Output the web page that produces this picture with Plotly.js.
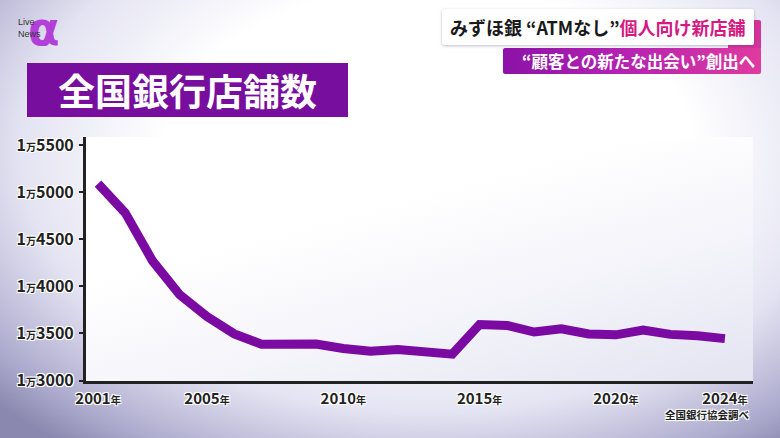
<!DOCTYPE html>
<html>
<head>
<meta charset="utf-8">
<script src="https://cdn.plot.ly/plotly-3.0.1.min.js"></script>
<style>
  html, body { margin:0; padding:0; width:780px; height:438px; overflow:hidden; }
  body {
    position:relative;
    background:
      radial-gradient(ellipse 75% 85% at 55% 35%, #ffffff 45%, #e4e3f2 70%, #aeacce 90%, #8a88ae 100%);
  }
  #plotbg { position:absolute; left:86px; top:137px; width:667px; height:244px;
    background: linear-gradient(165deg, #ffffff 35%, #f4f4fa 65%, #e4e4f2 100%); }
  #b1 { position:absolute; left:442px; top:9px; width:312px; height:36px; background:#fff;
    box-shadow: 0 1px 3px rgba(80,60,120,0.35); border-radius:2px; }
  #b1p { position:absolute; left:728px; top:20px; width:33px; height:30px; background:#d3339a; border-radius:2px; }
  #b2 { position:absolute; left:503px; top:48px; width:258px; height:26px;
    background: linear-gradient(90deg, #8c12a8 0%, #b322b2 45%, #e03aa0 100%); border-radius:2px; }
  #chart { position:absolute; left:0; top:0; width:780px; height:438px; }
</style>
</head>
<body>
<div id="plotbg"></div>
<div id="b1p"></div>
<div id="b1"></div>
<div id="b2"></div>
<div id="chart"></div>
<script>
// ---- data ----
const years = [2001,2002,2003,2004,2005,2006,2007,2008,2009,2010,2011,2012,2013,2014,2015,2016,2017,2018,2019,2020,2021,2022,2023,2024];
const branches = [15090,14780,14270,13910,13680,13495,13385,13390,13388,13340,13310,13330,13305,13280,13595,13585,13515,13550,13495,13485,13535,13490,13475,13445];
const yTickVals = [13000,13500,14000,14500,15000,15500];
const yTickText = ["1<span style='font-size:10px'>万</span>3000","1<span style='font-size:10px'>万</span>3500","1<span style='font-size:10px'>万</span>4000","1<span style='font-size:10px'>万</span>4500","1<span style='font-size:10px'>万</span>5000","1<span style='font-size:10px'>万</span>5500"];
const xTickVals = [2001,2005,2010,2015,2020,2024];
const xTickText = xTickVals.map(v => v + "<span style='font-size:10px'>年</span>");
const chartTitle = "全国銀行店舗数";
const headline1 = "みずほ銀 “ATMなし”";
const headline2 = "個人向け新店舗";
const subHeadline = "“顧客との新たな出会い”創出へ";
const sourceText = "全国銀行協会調べ";

// plot area in pixels
const L = 86, T = 137, W = 667, H = 244;
const px = x => (x - L) / W;
const py = y => (T + H - y) / H;

const halo = "1px 1px 0 #fff, -1px -1px 0 #fff, 1px -1px 0 #fff, -1px 1px 0 #fff, 0 0 2px #fff";
const JP = "Noto Sans CJK JP, sans-serif";

const trace = {
  x: years, y: branches, type: 'scatter', mode: 'lines',
  line: { color: '#7a0aa2', width: 9, shape: 'linear' },
  hoverinfo: 'skip'
};

const layout = {
  width: 780, height: 438,
  margin: { l: L, r: 780 - L - W, t: T, b: 438 - T - H, pad: 0 },
  paper_bgcolor: 'rgba(0,0,0,0)', plot_bgcolor: 'rgba(0,0,0,0)',
  showlegend: false,
  xaxis: {
    range: [2000.56, 2025.03], showgrid: false, zeroline: false,
    showline: true, linecolor: '#222', linewidth: 3,
    ticks: '', tickmode: 'array', tickvals: xTickVals, ticktext: xTickText,
    tickfont: { family: JP, size: 15, color: '#222', weight: 700, shadow: halo },
    ticklabelstandoff: 2
  },
  yaxis: {
    range: [12995, 15585], showgrid: false, zeroline: false,
    showline: true, linecolor: '#222', linewidth: 3,
    ticks: 'outside', ticklen: 4, tickwidth: 2, tickcolor: '#222',
    tickmode: 'array', tickvals: yTickVals, ticktext: yTickText,
    tickfont: { family: JP, size: 16, color: '#222', weight: 700, shadow: halo },
    ticklabelstandoff: 2
  },
  shapes: [
    { type: 'rect', xref: 'paper', yref: 'paper', x0: px(27), x1: px(348), y0: py(117), y1: py(63),
      fillcolor: '#780e9e', line: { width: 0 }, layer: 'above' }
  ],
  annotations: [
    { xref: 'paper', yref: 'paper', x: px(187), y: py(90), text: chartTitle, showarrow: false,
      xanchor: 'center', yanchor: 'middle', font: { family: JP, size: 37, color: '#fff', weight: 700 } },
    { xref: 'paper', yref: 'paper', x: px(748), y: py(27), xanchor: 'right', yanchor: 'middle', showarrow: false,
      text: headline1 + "<span style='color:#d41a82'>" + headline2 + "</span>",
      font: { family: JP, size: 18, color: '#1a1a1a', weight: 700 } },
    { xref: 'paper', yref: 'paper', x: px(757), y: py(61), xanchor: 'right', yanchor: 'middle', showarrow: false,
      text: subHeadline, font: { family: JP, size: 16.5, color: '#fff', weight: 700 } },
    { xref: 'paper', yref: 'paper', x: px(752), y: py(414), xanchor: 'right', yanchor: 'middle', showarrow: false,
      text: sourceText, font: { family: JP, size: 10.5, color: '#222', weight: 700, shadow: halo } },
    // logo
    { xref: 'paper', yref: 'paper', x: px(44), y: py(29), xanchor: 'center', yanchor: 'middle', showarrow: false,
      text: 'α', font: { family: 'DejaVu Sans, sans-serif', size: 46, color: '#b23fd8', weight: 700 } },
    { xref: 'paper', yref: 'paper', x: px(16), y: py(28), xanchor: 'left', yanchor: 'middle', showarrow: false,
      text: 'Live<br>News', align: 'left', font: { family: 'Liberation Sans, sans-serif', size: 9, color: '#333' } }
  ]
};

Plotly.newPlot('chart', [trace], layout, { staticPlot: true, displayModeBar: false });
</script>
</body>
</html>
